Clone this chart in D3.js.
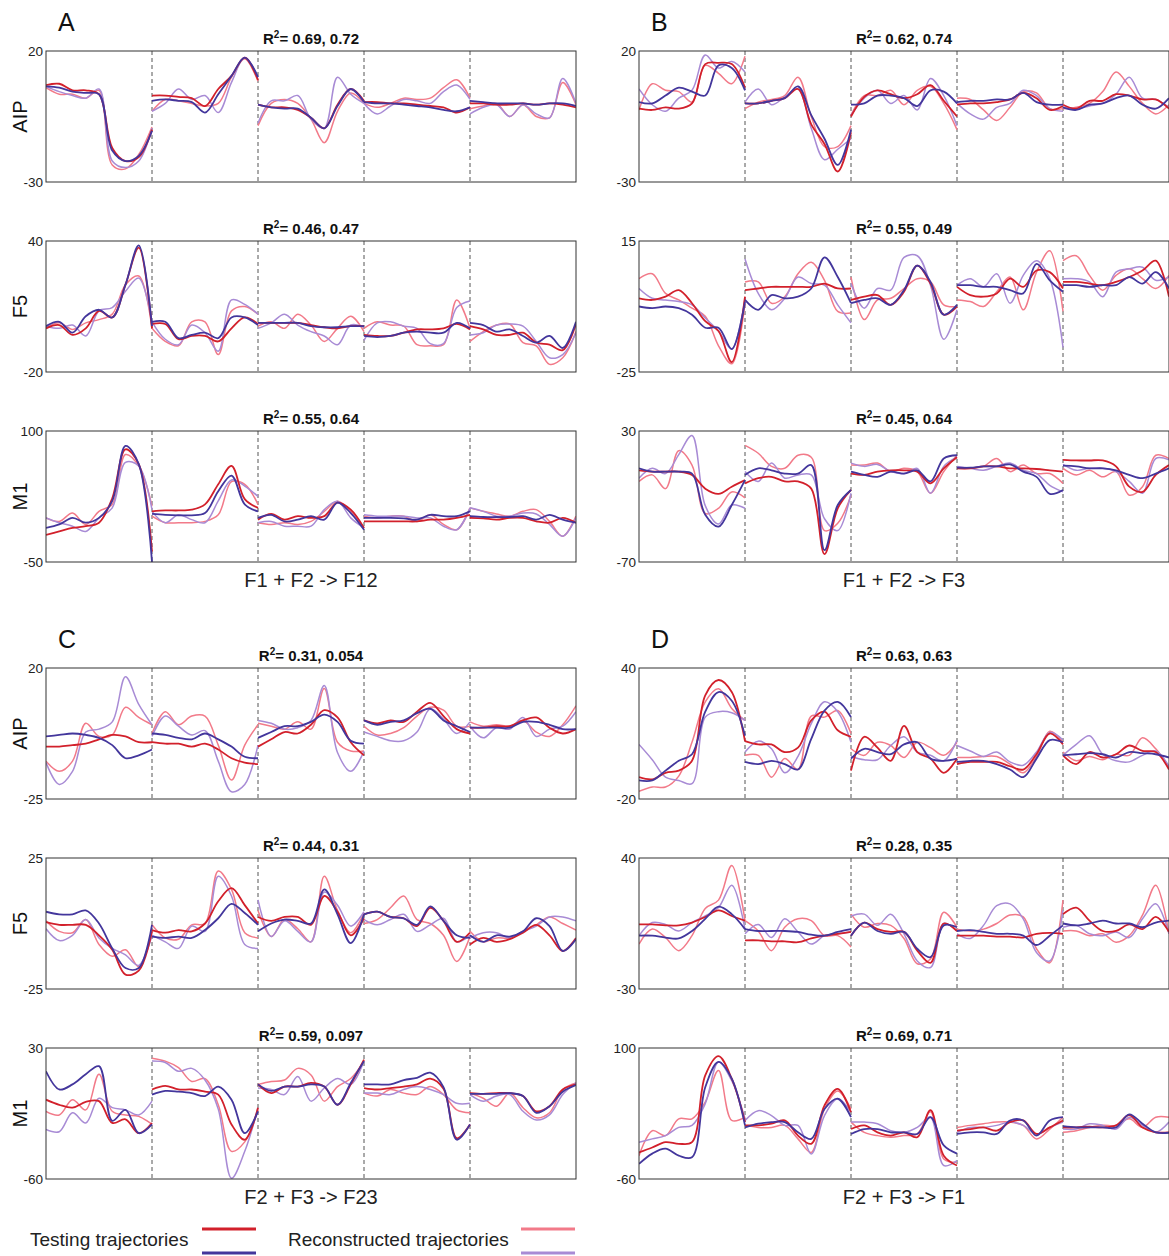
<!DOCTYPE html>
<html>
<head>
<meta charset="utf-8">
<script src="https://cdn.jsdelivr.net/npm/d3@7"></script>
<style>
  body { margin: 0; background: #fff; }
  svg { display: block; font-family: "Liberation Sans", Arial, Helvetica, sans-serif; }
</style>
</head>
<body>
<script>
// panel groups and labels
const groupLetters = ["A", "B", "C", "D"];
const yTitles = ["AIP", "F5", "M1"];
const xLabels = ["F1 + F2 -> F12", "F1 + F2 -> F3", "F2 + F3 -> F23", "F2 + F3 -> F1"];
const panelIds = ["A1", "A2", "A3", "B1", "B2", "B3", "C1", "C2", "C3", "D1", "D2", "D3"];
const yDomains = [[-30, 20], [-20, 40], [-50, 100], [-30, 20], [-25, 15], [-70, 30],
                  [-25, 20], [-25, 25], [-60, 30], [-20, 40], [-30, 40], [-60, 100]];
const r2Values = [["0.69", "0.72"], ["0.46", "0.47"], ["0.55", "0.64"],
                  ["0.62", "0.74"], ["0.55", "0.49"], ["0.45", "0.64"],
                  ["0.31", "0.054"], ["0.44", "0.31"], ["0.59", "0.097"],
                  ["0.63", "0.63"], ["0.28", "0.35"], ["0.69", "0.71"]];
const legendLabels = ["Testing trajectories", "Reconstructed trajectories"];

// each series: 5 trials x 9 samples
const A1_red = [[7,7.5,5,5,3.5,-17,-22,-20.5,-10],[3,3,2.5,2,-1,5.5,10.5,17.5,9],[-0.5,-1.5,-1.5,-2.5,-5.5,-9.5,-0.5,5.5,1],[0.5,0.5,0,0,-0.5,-1,-1.5,-3.5,-1.5],[0,0,-0.5,-0.5,0,-0.5,0,-0.5,-1.5]];
const A1_blue = [[6.5,6,4.5,4,3.5,-18,-22,-20,-10.5],[1,1.5,1,0.5,-3.5,3.5,10.5,17.5,10],[-0.5,-1.5,-2,-2,-5.5,-9.5,-1,5.5,0.5],[0.5,0,0,-0.5,-1,-1.5,-2.5,-3,-1.5],[1,0.5,0,0,0,-0.5,0,0,-1]];
const A1_pink = [[6,3.5,3.5,2,5,-23.5,-25,-19.5,-9],[-3,1.5,1,0,-1,0,10,17,8.5],[-8.5,0,1.5,0,-6,-15,-3,4,0],[0,-1.5,0,2,1.5,2,6,9,2],[-2,-1,0,-5,-0.5,-5,-5.5,8,-0.5]];
const A1_lav = [[6.5,4.5,3,2,5.5,-22,-24.5,-22,-9.5],[-3,0,5.5,1.5,3,-3.5,8,17.5,10],[-7.5,1,1,3,-6,-9.5,10,3.5,0],[0,-4,-1,1.5,1,0,4.5,7,1.5],[-4,-1.5,-0.5,-5,-0.5,-4,-5.5,9.5,0]];

const A2_red = [[0,1.5,-3,0,8,5,20,37,0],[2,2,-5,-3.5,-3.5,-6,0,5,2],[2.5,2.5,2.5,2.5,1.5,0.5,0,1,1],[-3,-3.5,-3.5,-2,-0.5,-0.5,0,2,-0.5],[1,-0.5,-3,-3,-2,-6.5,-7.5,-10,2]];
const A2_blue = [[1,3,-2,5.5,8.5,5,20,38,1],[3,3,-4.5,-3,-2,-4.5,5,5,1.5],[2.5,2.5,2.5,2.5,1,0.5,0.5,1,1],[-3.5,-4,-3.5,-2,-1.5,-2,-2,2.5,0],[2.5,1.5,-1.5,-0.5,-3.5,-6.5,-3.5,-9,3]];
const A2_pink = [[0,2.5,-0.5,2.5,4,6.5,20,24,0],[0,-6,-8,3,3,-12,8,10,6.5],[1,3,0,6.5,1.5,-6,0,5.5,-1.5],[0,3,1.5,1,-7.5,-8,-7.5,13,0],[-6,-1.5,1.5,2,-6.5,-8,-16.5,-13.5,-1.5]];
const A2_lav = [[1,0,1.5,-3.5,8,9.5,17,23,3],[3,-5,-7.5,1.5,-2,-10.5,13,11,6.5],[0,2.5,6.5,1.5,-1.5,-3.5,-7.5,1.5,0.5],[-5.5,2.5,3,1,0,-7,-7,9.5,12.5],[-3,-2,1.5,2,1,-6,-13.5,-12,-2]];

const A3_red = [[-19,-15,-11,-9,-5,23,79,62,-38],[8,9,9,10,16,39,60,22,12],[-1.5,5,-1.5,2.5,0.5,2.5,18,10,-11],[-3.5,-3.5,-3.5,-3.5,-3.5,-1.5,-1.5,0.5,4],[0.5,0,-1.5,0.5,0.5,-3.5,-5,0.5,-5]];
const A3_blue = [[-11,-7,0.5,-5,0.5,20,83,62,-50],[5,4,3.5,3.5,6,31,49,16,8],[0.5,4,-3.5,-1.5,2.5,-1.5,18,6,-13],[0.5,0.5,0.5,0,-1.5,4,2.5,2.5,8],[2.5,1.5,1.5,1.5,2.5,-1.5,4,-1.5,-5]];
const A3_pink = [[0.5,-3.5,6,-7,8,16,73,60,14],[2.5,-5,-5,-5,-3.5,4,42,39,16],[-5,-7,-5,-7,-3.5,8,19.5,8,-11],[2.5,0.5,2.5,2.5,-3.5,4,-7,-13,12],[12,8,5,2.5,8,10,-3.5,-20.5,2.5]];
const A3_lav = [[0.5,-5,-9,-15,0.5,12,64,60,10],[8,-5,4,-1.5,-5,20,44,37,25],[-5,-3.5,-9,-9,-9,10,19.5,0.5,-11],[4,2.5,2.5,2.5,0.5,0.5,-9,-13,12],[12,8,2.5,2.5,6,5,-7,-20.5,0.5]];

const B1_red = [[-2,-2.5,-1.5,-2,0,15,15.5,15,6],[0,0,1,2,5.5,-8,-15.5,-26,-11],[-5,2.5,5,3.5,2,3.5,7,1,-5],[-0.5,0,0,0.5,1.5,4,2,-2.5,-1],[-0.5,-2,1,1,3.5,3,1.5,1.5,-2]];
const B1_blue = [[0.5,0,3,6,4.5,3,14.5,13.5,5],[0,0,1,2,6.5,-4.5,-13.5,-23.5,-10],[-0.5,0,3,3,2,-1,5,4.5,0],[0.5,1,1,1.5,1.5,4,0.5,-0.5,-0.5],[-1.5,-2.5,-0.5,0,2,3,-0.5,-2,2]];
const B1_pink = [[-2.5,7.5,5,4.5,0.5,14.5,11.5,7.5,18],[-2,0.5,1.5,3,10,-5,-16.5,-16.5,-8.5],[-4.5,3,3,5,-0.5,5,6.5,0,-10],[2,1.5,-2.5,-6.5,-1.5,4.5,4,-2,-2],[-2,-1.5,0,4.5,12,6.5,0,-4,-0.5]];
const B1_lav = [[5.5,-0.5,-3,2,5,18.5,13.5,16,12],[0.5,5.5,-0.5,2.5,5.5,-9.5,-21.5,-17.5,-13.5],[-4.5,2,5,0,3,-2.5,9.5,3,-8.5],[0,-4,-6,-1.5,0,5,3,-2,-3],[-1.5,-2,-1,0,3.5,10,2,1.5,-1.5]];

const B2_red = [[-2.5,-3,-2,0,-4,-9.5,-12.5,-22,-2],[0,0.5,1,1,1,1,2,0.5,0.5],[-3,-2,-1.5,-4.5,-0.5,7.5,2,-7.5,-5],[1,-1.5,-2,-1,3.5,1,6,5.5,0.5],[2.5,2.5,2,1.5,2.5,4,6,9,-2]];
const B2_blue = [[-5,-5.5,-5,-5.5,-7.5,-11.5,-11.5,-18,-3.5],[-3,-6,-1.5,-2.5,-2,0.5,10,4,-4],[-4,-3,-2.5,-4.5,0,7.5,2.5,-7.5,-4.5],[1.5,1.5,1,1,0,-1,8,3,-0.5],[1.5,1.5,1,1.5,1.5,4,2,5.5,0.5]];
const B2_pink = [[3.5,5,-1,-3,-5.5,-8,-17,-22.5,-4],[2.5,2.5,-4,-2,5,8.5,3,-6.5,-7],[4,-9,-3,-2.5,0.5,3.5,2.5,-4.5,-5],[-3,-3.5,-5,-0.5,4,-6,5.5,12,-6.5],[9,10.5,4.5,0,4.5,6.5,3.5,0.5,4.5]];
const B2_lav = [[0.5,-2.5,-3,-3.5,-4.5,-8.5,-12.5,-18,-2.5],[9.5,-1,-6,-2.5,4,2,1.5,-4.5,-10],[2,-5.5,0.5,0,10,10.5,1.5,-15,-6],[1.5,3.5,1,5,-4,4.5,9,3.5,-17.5],[3.5,3.5,2.5,-2,5.5,6.5,7,3,4]];

const B3_red = [[0,-1,-1,-1,-3.5,-14,-18,-12.5,-7.5],[-10,-6,-5,-8.5,-8.5,-14,-64,-29,-15],[-2.5,-3.5,-1,0,0,-1,-10,1.5,10],[1.5,1.5,3,3,1.5,1.5,1,0,-1],[8,7.5,7.5,7.5,3,-12.5,-16.5,-3.5,4]];
const B3_blue = [[1.5,-1,-1,-1,-2.5,-34,-43,-26.5,-7.5],[-3.5,1.5,0,-2.5,-2.5,4,-61,-26.5,-15],[-1,-3.5,-5,-1,-2.5,0,-8.5,9,11.5],[2,2,3,3,4.5,-1,-5,-18,-15],[3.5,3,1.5,1.5,0,-3.5,-6,-2.5,1.5]];
const B3_pink = [[-8.5,-3.5,-14,15,4,-33,-29,-16.5,-21],[19,13,3,1.5,11.5,10,-46,-40.5,-19],[4,4,5.5,-1,1.5,-1,-17.5,-1,11.5],[1.5,1.5,3,9,-1,4,-2.5,-2.5,-10],[1.5,-3.5,0,-5,-1,-19,-12.5,11.5,9]];
const B3_lav = [[-6,1.5,-2.5,12,26.5,-27,-41,-26.5,-29],[-1,-8.5,5.5,-6,-3.5,-3.5,-37,-46,-17.5],[5.5,3,4.5,-1,-2.5,1.5,-17.5,3,10],[3,1.5,0,3,5.5,0,-2.5,-11.5,-16.5],[4.5,0,1.5,1.5,-1,-8.5,-17.5,9,8]];

const C1_red = [[-7,-7,-6.5,-6,-4.5,-3,-3.5,-5.5,-5.5],[-5.5,-6,-6,-7,-6,-8,-11,-12.5,-13],[-7,-4.5,-2,-2.5,0.5,5.5,3,-5.5,-10],[2,1,2,1.5,5,8,3.5,-1,-2.5],[-0.5,-0.5,0,0,2,3,-0.5,-2.5,-1]];
const C1_blue = [[-3.5,-3,-2.5,-3,-4,-6.5,-11,-10,-8],[-2.5,-3,-4,-4.5,-2.5,-4.5,-7,-10.5,-11],[-4,-2,0,0,1.5,4,1.5,-5,-6],[2,0.5,1.5,2,4.5,6,2,0,-2],[-0.5,-0.5,-0.5,-0.5,1.5,1.5,0.5,-1,-1]];
const C1_pink = [[-12,-15.5,-12,1,-3.5,-3,6.5,3,0.5],[-2.5,5,0.5,3.5,3.5,-6.5,-18.5,-6.5,0.5],[1,0,-1,1.5,-1,13,-5.5,-8.5,-8.5],[0,-3,-2.5,-0.5,3.5,6.5,5.5,0,0],[1.5,0,0.5,0,2,-2,-3.5,0.5,7]];
const C1_lav = [[-12.5,-20,-15.5,-2,-1,1.5,17,7.5,0.5],[-3.5,3.5,0,-3,-1.5,-12,-22.5,-20,-6.5],[2,1,-1,-0.5,2,14,-9,-15.5,-8.5],[-2,-3.5,-5,-5,-2,6,2.5,-2.5,1.5],[0,-4,-0.5,-1,3,-3.5,-1,0,5]];

const C2_red = [[0.5,-0.5,-0.5,-0.5,-4.5,-10,-19.5,-18,-3],[-2.5,-3.5,-2.5,-3,0,8.5,13.5,7,0],[2.5,1,2.5,2.5,-0.5,10.5,4.5,-4.5,2],[3.5,4.5,2.5,2,-1,6,1,-7,-3.5],[-8,-5.5,-7,-6,-3.5,-0.5,-4.5,-10.5,-5.5]];
const C2_blue = [[4.5,3.5,3.5,5,0,-9.5,-17,-17,-0.5],[-5,-5.5,-5,-5.5,-2.5,2,7.5,4,-0.5],[-3,0,1.5,1,0,13,3.5,-7.5,3.5],[3.5,4.5,2.5,2,-0.5,6.5,1,-4.5,-5.5],[-4.5,-7,-4.5,-5,-3,2,-1,-10.5,-6]];
const C2_pink = [[1,-3,-3.5,1.5,-8,-12.5,-10,-16.5,-3],[-0.5,-5.5,-6,-0.5,0,20,13,-3.5,-5.5],[5,-5,1.5,-2,-7,18,5,-3.5,4],[0,1.5,6,10.5,1.5,0,-4.5,-14.5,-5],[-3,-7,-5.5,-5.5,-3,-0.5,2.5,0,-2.5]];
const C2_lav = [[-2,-6.5,-4.5,1.5,-5.5,-9.5,-12,-16,-4.5],[-4.5,-7,-9.5,-1,-3,18,10.5,-8,-9.5],[9,-5,1,-3,-7,12,7,-1,4.5],[1.5,-0.5,1.5,3.5,-3,-0.5,2,-7,-4.5],[-5.5,-3.5,-3.5,-5.5,-3,-1,2.5,2.5,1]];

const C3_red = [[-5.5,-9,-11,-7,-6.5,-21.5,-19,-28.5,-21.5],[1.5,4,1.5,1.5,0,-2,-22.5,-33,-11],[5,-1,3.5,3.5,6,3.5,-9,5,22],[2.5,1.5,2.5,3.5,5,9,2,-32,-22.5],[-1,-1.5,-1,-1,-3,-13.5,-10,1.5,5]];
const C3_blue = [[14,1.5,5,12,17.5,-20,-12.5,-28.5,-22.5],[-2,0.5,0,-1,-3,3.5,-5.5,-28.5,-13.5],[5,0.5,3.5,3.5,5,3.5,-9,6,21],[5,5,5,8,9.5,13,3,-33,-22.5],[-1.5,-1.5,-1.5,-1,-3,-14.5,-10,0,4.5]];
const C3_pink = [[-13.5,-16,-5.5,-12.5,12,-13.5,-16,-17,-22.5],[23,21,16.5,7,9,-9,-41,-34.5,-12.5],[5,7,8,16,11.5,-6.5,3.5,9,21],[-1,-3,1.5,-1,-2,3.5,-2,-12.5,-14.5],[-1,-4.5,-10,-1,-11,-18,-14.5,1.5,6]];
const C3_lav = [[-26,-27.5,-14.5,-21.5,-4.5,-11,-12.5,-16,-6.5],[21,20,14,16,8,-12,-59.5,-41,-11],[2.5,1.5,-2,10.5,-6.5,2.5,9,5,21],[-1,-1,-2,1.5,3.5,1.5,-2,-8,-8],[-2,-6.5,-3,-2,-13.5,-19.5,-16,-2,6]];

const D1_red = [[-10,-11,-8,-7,-2.5,27.5,34.5,29,6.5],[6.5,5,5,1.5,3.5,16,20,11.5,8.5],[-7,8.5,3.5,-2.5,13.5,1.5,-1.5,-8,-1.5],[-4,-3,-3,-3,-5,-6.5,0.5,10,5],[0,-4,1.5,-1,0.5,4.5,2,1.5,-6.5]];
const D1_blue = [[-11.5,-11.5,-7,-2.5,0.5,20,29,25,9],[-3,-4,-2.5,-4,-6.5,7.5,20.5,24.5,17.5],[-1.5,3,1.5,0.5,5,6,-1.5,-2.5,-1.5],[-3,-2.5,-2.5,-4,-6.5,-10,-1.5,7,6],[0,0.5,1,0.5,-1,1.5,1,0.5,-1]];
const D1_pink = [[-16.5,-14.5,-14.5,-9.5,6,24.5,30.5,21.5,16],[0,0,-10,-1.5,-6.5,18,17.5,20.5,10],[3,0,6,4.5,-1,6,3.5,0,6],[-1,-1,-0.5,-0.5,-4,-8,-0.5,11,6],[1.5,-2.5,-0.5,-2,0.5,0,8,3,-5.5]];
const D1_lav = [[5,-2,-10,-11.5,-13,17.5,20,19.5,16],[1.5,6.5,3,-8,-0.5,14.5,24.5,20,6],[-0.5,-2,-2,4.5,8.5,1.5,0,-2.5,7],[4.5,2,-0.5,1.5,-3,-4.5,1.5,10.5,7],[0,5,9,0.5,-2.5,-3,0,2,-5]];

const D2_red = [[4.5,4.5,4,4,5.5,8.5,12,9,6.5],[-4,-4,-4.5,-4.5,-5,-3,-1.5,-0.5,0.5],[-1.5,5.5,2,0.5,0.5,-9.5,-16,5,1],[-1.5,-1.5,-1.5,-2,-2,-2.5,-0.5,0,-0.5],[10,13.5,6.5,1,1,4.5,2,8.5,0.5]];
const D2_blue = [[-1.5,-1.5,-2.5,-3,1,7.5,14,10,2],[2,1,1,1,0.5,-1,-1.5,0.5,2],[-1.5,5.5,1,-0.5,0.5,-8.5,-13,4,3],[1,1.5,0.5,-0.5,-0.5,-1.5,-6.5,-1.5,4],[5,4,5,6.5,5,5,3,5.5,6.5]];
const D2_pink = [[-6,2,-2.5,-9.5,-1.5,13,17.5,36,6.5],[6.5,1,-9.5,3,7.5,6.5,-1.5,-1.5,-7.5],[10,3,5,4,-3,-16.5,-14,11,3],[2,1,2,5,9.5,8.5,-8.5,-16,17.5],[1,1,-1.5,-0.5,-5,-1.5,9.5,25.5,-0.5]];
const D2_lav = [[-1.5,5.5,4.5,1,5.5,9,13.5,25.5,2],[-0.5,4.5,-2.5,7.5,0.5,-6,-1.5,-0.5,0.5],[9,10,4,10,-0.5,-15,-18.5,5,1],[-0.5,-3,4,14.5,15.5,7.5,-10.5,-15,12],[3,4,-0.5,-1.5,0.5,-2.5,7.5,15.5,-0.5]];

const D3_red = [[-27.5,-21.5,-15,-17,-15,66.5,90,62.5,9.5],[5.5,5.5,7.5,11.5,-7,-17,30,50,21.5],[1,5.5,-3,-7,-3,-9,24,-31.5,-43.5],[-1,1,3,-1,9.5,11.5,-5,3,11.5],[3,3,4,3,5.5,18,3,-3,-3]];
const D3_blue = [[-41.5,-29,-23,-31.5,-33.5,52,83,62.5,5.5],[3,7.5,9.5,9.5,-3,-11,25.5,38,15.5],[-5,1,1,-3,-3,-5,15.5,-19,-29],[-5,-3,-3,-5,11.5,11.5,-7,11.5,15.5],[4.5,3,3,3,3,19,7.5,-3,-3.5]];
const D3_pink = [[-31.5,-1,-7,13.5,13.5,34,72.5,11.5,15.5],[5.5,3,3,5.5,-11,-27.5,25.5,47.5,25.5],[9.5,-3,-7,-9,-7,-5,22,-35.5,-39.5],[3,5.5,7.5,9.5,9.5,5.5,-11,1,15.5],[-3,-1,3,5.5,5.5,13.5,3,15.5,15.5]];
const D3_lav = [[-15,-11,-7,3,5.5,32,83,60,13.5],[11.5,23.5,17.5,5.5,5.5,-29.5,17.5,38,21.5],[9.5,9.5,7.5,-1,-3,3,15.5,-43.5,-37.5],[-3,3,3,5.5,9.5,5.5,-5,3,9.5],[1,1,7.5,5.5,1,15.5,5.5,-3,9.5]];

// series in draw order: reconstructed first, testing on top
const panelSeries = [
  [A1_pink, A1_lav, A1_red, A1_blue], [A2_pink, A2_lav, A2_red, A2_blue], [A3_pink, A3_lav, A3_red, A3_blue],
  [B1_pink, B1_lav, B1_red, B1_blue], [B2_pink, B2_lav, B2_red, B2_blue], [B3_pink, B3_lav, B3_red, B3_blue],
  [C1_pink, C1_lav, C1_red, C1_blue], [C2_pink, C2_lav, C2_red, C2_blue], [C3_pink, C3_lav, C3_red, C3_blue],
  [D1_pink, D1_lav, D1_red, D1_blue], [D2_pink, D2_lav, D2_red, D2_blue], [D3_pink, D3_lav, D3_red, D3_blue]
];
const seriesColors = ["#f27a89", "#a88bd5", "#d2202b", "#43369c"];
const seriesWidths = [1.5, 1.5, 1.8, 1.8];

const W = 1169, H = 1256;
const colX = [46, 639];
const plotW = 530;
const rowTop = [51, 241, 431, 668, 858, 1048];
const plotH = 131;

const svg = d3.select("body").append("svg")
  .attr("width", W)
  .attr("height", H);

const x = d3.scaleLinear().domain([0, 5]).range([0, plotW]);

const line = d3.line()
  .x(d => x(d.t))
  .y(d => d.y)
  .curve(d3.curveCatmullRom.alpha(0.5));

panelIds.forEach((id, p) => {
  const g = Math.floor(p / 3);       // group A..D
  const r = p % 3;                   // row within group
  const col = g % 2;
  const row = Math.floor(g / 2) * 3 + r;
  const left = colX[col], top = rowTop[row];

  const y = d3.scaleLinear().domain(yDomains[p]).range([plotH, 0]);

  const panel = svg.append("g").attr("transform", `translate(${left},${top})`);

  panel.append("clipPath").attr("id", "clip" + id)
    .append("rect").attr("width", plotW).attr("height", plotH);

  // trial separators
  panel.selectAll(".sep")
    .data([1, 2, 3, 4])
    .enter().append("line")
    .attr("x1", d => x(d)).attr("x2", d => x(d))
    .attr("y1", 0).attr("y2", plotH)
    .attr("stroke", "#555")
    .attr("stroke-width", 1)
    .attr("stroke-dasharray", "4,3");

  const lines = panel.append("g").attr("clip-path", `url(#clip${id})`);
  panelSeries[p].forEach((series, k) => {
    series.forEach((seg, s) => {
      const pts = seg.map((v, i) => ({ t: s + i / 8, y: y(v) }));
      lines.append("path")
        .attr("d", line(pts))
        .attr("fill", "none")
        .attr("stroke", seriesColors[k])
        .attr("stroke-width", seriesWidths[k])
        .attr("stroke-linejoin", "round");
    });
  });

  panel.append("rect")
    .attr("width", plotW).attr("height", plotH)
    .attr("fill", "none")
    .attr("stroke", "#333")
    .attr("stroke-width", 1);

  const yAxis = d3.axisLeft(y)
    .tickValues(yDomains[p])
    .tickSize(0)
    .tickPadding(3)
    .tickFormat(d => String(d));
  const ax = panel.append("g").call(yAxis);
  ax.select(".domain").remove();
  ax.selectAll("text")
    .attr("font-size", 13.5)
    .attr("fill", "#222")
    .attr("font-family", "'Liberation Sans', Arial, sans-serif");

  // R^2 title
  const t = panel.append("text")
    .attr("x", plotW / 2)
    .attr("y", -7)
    .attr("text-anchor", "middle")
    .attr("font-size", 15)
    .attr("font-weight", "bold")
    .attr("fill", "#111");
  t.append("tspan").text("R");
  t.append("tspan").attr("font-size", 10).attr("dy", -6).text("2");
  t.append("tspan").attr("dy", 6).text(`= ${r2Values[p][0]}, ${r2Values[p][1]}`);

  if (col === 0) {
    panel.append("text")
      .attr("transform", `translate(-19,${plotH / 2}) rotate(-90)`)
      .attr("text-anchor", "middle")
      .attr("font-size", 20)
      .attr("fill", "#111")
      .text(yTitles[r]);
  }

  if (r === 0) {
    svg.append("text")
      .attr("x", left + 12)
      .attr("y", top - 20)
      .attr("font-size", 25)
      .attr("fill", "#111")
      .text(groupLetters[g]);
  }
  if (r === 2) {
    svg.append("text")
      .attr("x", left + plotW / 2)
      .attr("y", top + plotH + 25)
      .attr("text-anchor", "middle")
      .attr("font-size", 20)
      .attr("fill", "#222")
      .text(xLabels[g]);
  }
});

// legend
const legend = svg.append("g");
legend.append("text").attr("x", 30).attr("y", 1246)
  .attr("font-size", 19).attr("fill", "#222").text(legendLabels[0]);
legend.append("text").attr("x", 288).attr("y", 1246)
  .attr("font-size", 19).attr("fill", "#222").text(legendLabels[1]);
const legendItems = [
  { x: 202, y: 1229, c: seriesColors[2] }, { x: 202, y: 1253, c: seriesColors[3] },
  { x: 521, y: 1229, c: seriesColors[0] }, { x: 521, y: 1253, c: seriesColors[1] }
];
legend.selectAll(".key").data(legendItems).enter().append("line")
  .attr("x1", d => d.x).attr("x2", d => d.x + 54)
  .attr("y1", d => d.y).attr("y2", d => d.y)
  .attr("stroke", d => d.c)
  .attr("stroke-width", 3);
</script>
</body>
</html>
